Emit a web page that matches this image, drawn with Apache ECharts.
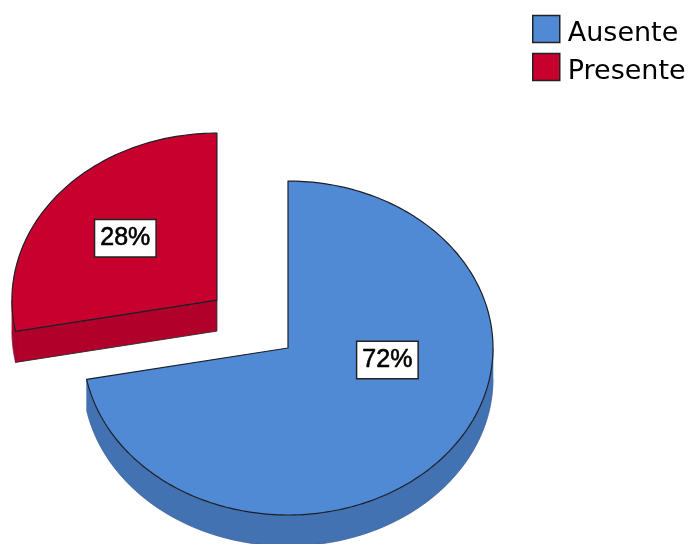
<!DOCTYPE html>
<html>
<head>
<meta charset="utf-8">
<script src="https://cdn.jsdelivr.net/npm/echarts@6/dist/echarts.min.js"></script>
<style>
  html, body { margin: 0; padding: 0; background: #ffffff; }
  #chart { width: 693px; height: 544px; }
</style>
</head>
<body>
<div id="chart"></div>
<script>
// Categories and their shares (percent)
const categories = ['Ausente', 'Presente'];
const values = [72, 28];

// Slice styling
const topColors = ['#508AD4', '#C8002E'];
const sideColors = ['#4372B3', '#B1002A'];
const explodeFrac = [0, 0.45];
// label anchor per slice: [angle in degrees clockwise from 12 o'clock, radius fraction]
const labelAnchors = [[98.4, 0.49], [309.6, 0.58]];

// Pie geometry (tilted disc)
const CX = 288, CY = 348, RX = 205, RY = 167, DEPTH = 31;

const total = values.reduce((a, b) => a + b, 0);
const starts = [];
values.reduce((acc, v, i) => { starts[i] = acc; return acc + v; }, 0);

function rim(theta, ox, oy, dz) {
  return [CX + ox + RX * Math.sin(theta), CY + oy - RY * Math.cos(theta) + dz];
}
function arcPts(from, to, ox, oy, dz) {
  const n = Math.max(2, Math.ceil(Math.abs(to - from) / 0.02));
  const pts = [];
  for (let k = 0; k <= n; k++) {
    pts.push(rim(from + (to - from) * k / n, ox, oy, dz));
  }
  return pts;
}

function renderSlice(params, api) {
  const i = params.seriesIndex;
  const v = api.value(0);
  const s = api.value(1);
  const a0 = s / total * Math.PI * 2;
  const a1 = (s + v) / total * Math.PI * 2;
  const mid = (a0 + a1) / 2;
  const e = explodeFrac[i];
  const ox = e * RX * Math.sin(mid);
  const oy = -e * RY * Math.cos(mid);
  const apex = [CX + ox, CY + oy];
  const apexLow = [apex[0], apex[1] + DEPTH];
  const children = [];
  const sideStyle = { fill: sideColors[i], stroke: '#2a2a2a', lineWidth: 0.9 };

  // radial cut faces facing the viewer
  if (Math.sin(a0) < -1e-6) {
    const p = rim(a0, ox, oy, 0), q = rim(a0, ox, oy, DEPTH);
    children.push({ type: 'polygon', shape: { points: [apex, p, q, apexLow] }, style: sideStyle });
  }
  if (Math.sin(a1) > 1e-6) {
    const p = rim(a1, ox, oy, 0), q = rim(a1, ox, oy, DEPTH);
    children.push({ type: 'polygon', shape: { points: [apex, p, q, apexLow] }, style: sideStyle });
  }
  // front part of the outer wall
  const lo = Math.max(a0, Math.PI / 2), hi = Math.min(a1, Math.PI * 1.5);
  if (lo < hi) {
    const upper = arcPts(lo, hi, ox, oy, 0);
    const lower = arcPts(hi, lo, ox, oy, DEPTH);
    children.push({
      type: 'polygon',
      shape: { points: upper.concat(lower) },
      style: { fill: sideColors[i], stroke: sideColors[i], lineWidth: 0.6 }
    });
    children.push({
      type: 'polyline',
      shape: { points: lower },
      style: { fill: null, stroke: 'rgba(40,60,100,0.35)', lineWidth: 0.8 }
    });
  }
  // top face
  const topPts = [apex].concat(arcPts(a0, a1, ox, oy, 0));
  children.push({
    type: 'polygon',
    shape: { points: topPts },
    style: { fill: topColors[i], stroke: '#1e1e28', lineWidth: 1.2, lineJoin: 'round' }
  });
  // percentage label
  const la = labelAnchors[i][0] * Math.PI / 180, lr = labelAnchors[i][1];
  children.push({
    type: 'text',
    x: apex[0] + lr * RX * Math.sin(la),
    y: apex[1] - lr * RY * Math.cos(la),
    style: {
      text: Math.round(v / total * 100) + '%',
      fontSize: 25,
      fontFamily: '"Liberation Sans", Arial, sans-serif',
      fill: '#000000',
      stroke: '#000000',
      lineWidth: 0.6,
      align: 'center',
      verticalAlign: 'middle',
      backgroundColor: '#ffffff',
      borderColor: '#222222',
      borderWidth: 1.5,
      padding: [6, 5, 5, 5]
    }
  });
  return { type: 'group', children: children };
}

const chart = echarts.init(document.getElementById('chart'), null, { renderer: 'canvas' });
chart.setOption({
  animation: false,
  backgroundColor: '#ffffff',
  legend: {
    orient: 'vertical',
    left: 532,
    top: 11,
    padding: 0,
    itemWidth: 27,
    itemHeight: 27,
    itemGap: 2,
    selectedMode: false,
    formatter: name => '{t|' + name + '}',
    textStyle: {
      color: '#000000',
      rich: {
        t: {
          fontSize: 27,
          lineHeight: 27,
          fontFamily: '"DejaVu Sans", sans-serif',
          color: '#000000',
          padding: [9, 0, 0, 3]
        }
      }
    },
    data: categories.map((name, i) => ({
      name: name,
      icon: 'rect',
      itemStyle: { color: topColors[i], borderColor: '#222222', borderWidth: 1.5 }
    }))
  },
  series: categories.map((name, i) => ({
    type: 'custom',
    name: name,
    coordinateSystem: 'none',
    silent: true,
    itemStyle: { color: topColors[i] },
    data: [[values[i], starts[i]]],
    renderItem: renderSlice
  }))
});
</script>
</body>
</html>
